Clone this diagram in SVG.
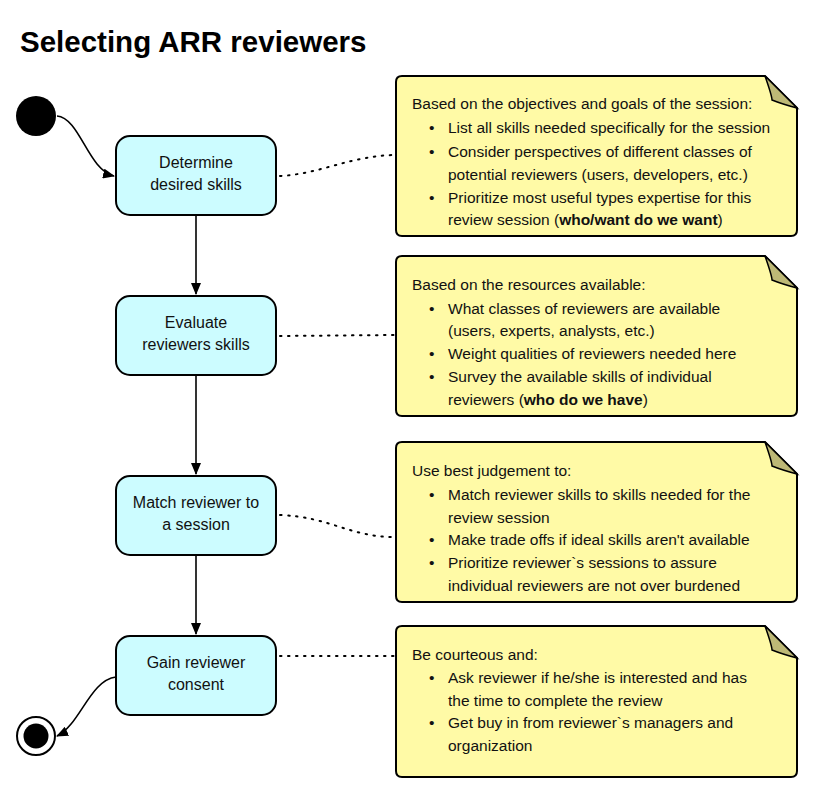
<svg xmlns="http://www.w3.org/2000/svg" width="813" height="792" viewBox="0 0 813 792">
<defs>
<marker id="arr" viewBox="0 0 12 10" refX="11" refY="5" markerWidth="12" markerHeight="10" markerUnits="userSpaceOnUse" orient="auto">
<path d="M0,0 L12,5 L0,10 Z" fill="#000"/>
</marker>
</defs>
<style>
.box{fill:#ccfcff;stroke:#000;stroke-width:2}
.note{fill:#fffaa6;stroke:#000;stroke-width:2}
.fold{fill:#bdb876;stroke:#000;stroke-width:1.5}
.bt{font-family:"Liberation Sans",Arial,sans-serif;font-size:16px;fill:#111;text-anchor:middle}
.nt{font-family:"Liberation Sans",Arial,sans-serif;font-size:15.5px;fill:#111}
.b{font-weight:bold}
.flow{fill:none;stroke:#000;stroke-width:1.6}
.dot{fill:none;stroke:#000;stroke-width:2;stroke-dasharray:1.5 6.5;stroke-linecap:round}
.title{font-family:"Liberation Sans",Arial,sans-serif;font-size:29.5px;font-weight:bold;fill:#000}
</style>
<rect width="813" height="792" fill="#fff"/>
<text class="title" x="20" y="52">Selecting ARR reviewers</text>

<g id="connectors">
<path class="flow" d="M57,116 C80,118 88,170 114,176" marker-end="url(#arr)"/>
<path class="flow" d="M196,216 L196,294" marker-end="url(#arr)"/>
<path class="flow" d="M196,376 L196,474" marker-end="url(#arr)"/>
<path class="flow" d="M196,556 L196,634" marker-end="url(#arr)"/>
<path class="flow" d="M116,677 C90,680 80,725 57,736" marker-end="url(#arr)"/>
<path class="dot" d="M280,176 C320,174 350,156 394,155"/>
<path class="dot" d="M280,336 L394,335"/>
<path class="dot" d="M280,515 C330,517 350,537 394,537"/>
<path class="dot" d="M280,656 L394,656"/>
</g>

<g id="start"><circle cx="36" cy="116" r="20" fill="#000"/></g>
<g id="end"><circle cx="36" cy="736" r="19" fill="#fff" stroke="#000" stroke-width="2"/><circle cx="36" cy="736" r="12.5" fill="#000"/></g>

<g id="n1"><rect class="box" x="116" y="136" width="160" height="79" rx="14"/><text class="bt" x="196" y="168">Determine</text><text class="bt" x="196" y="190">desired skills</text></g>
<g id="n2"><rect class="box" x="116" y="296" width="160" height="79" rx="14"/><text class="bt" x="196" y="328">Evaluate</text><text class="bt" x="196" y="350">reviewers skills</text></g>
<g id="n3"><rect class="box" x="116" y="476" width="160" height="79" rx="14"/><text class="bt" x="196" y="508">Match reviewer to</text><text class="bt" x="196" y="530">a session</text></g>
<g id="n4"><rect class="box" x="116" y="636" width="160" height="79" rx="14"/><text class="bt" x="196" y="668">Gain reviewer</text><text class="bt" x="196" y="690">consent</text></g>

<g id="note1">
<path class="note" d="M402,76 L765,76 L797,108 L797,230 Q797,236 791,236 L402,236 Q396,236 396,230 L396,82 Q396,76 402,76 Z"/>
<path class="fold" d="M765,76 Q772,96 772,100 Q782,104 797,108 Z"/>
<text class="nt" x="412" y="109">Based on the objectives and goals of the session:</text>
<text class="nt" x="429" y="133">•</text><text class="nt" x="448" y="133">List all skills needed specifically for the session</text>
<text class="nt" x="429" y="157">•</text><text class="nt" x="448" y="157">Consider perspectives of different classes of</text>
<text class="nt" x="448" y="180">potential reviewers (users, developers, etc.)</text>
<text class="nt" x="429" y="203">•</text><text class="nt" x="448" y="203">Prioritize most useful types expertise for this</text>
<text class="nt" x="448" y="225">review session (<tspan class="b">who/want do we want</tspan>)</text>
</g>

<g id="note2">
<path class="note" d="M402,256 L765,256 L797,288 L797,410 Q797,416 791,416 L402,416 Q396,416 396,410 L396,262 Q396,256 402,256 Z"/>
<path class="fold" d="M765,256 Q772,276 772,280 Q782,284 797,288 Z"/>
<text class="nt" x="412" y="290">Based on the resources available:</text>
<text class="nt" x="429" y="314">•</text><text class="nt" x="448" y="314">What classes of reviewers are available</text>
<text class="nt" x="448" y="336">(users, experts, analysts, etc.)</text>
<text class="nt" x="429" y="359">•</text><text class="nt" x="448" y="359">Weight qualities of reviewers needed here</text>
<text class="nt" x="429" y="382">•</text><text class="nt" x="448" y="382">Survey the available skills of individual</text>
<text class="nt" x="448" y="405">reviewers (<tspan class="b">who do we have</tspan>)</text>
</g>

<g id="note3">
<path class="note" d="M402,442 L765,442 L797,474 L797,596 Q797,602 791,602 L402,602 Q396,602 396,596 L396,448 Q396,442 402,442 Z"/>
<path class="fold" d="M765,442 Q772,462 772,466 Q782,470 797,474 Z"/>
<text class="nt" x="412" y="476">Use best judgement to:</text>
<text class="nt" x="429" y="500">•</text><text class="nt" x="448" y="500">Match reviewer skills to skills needed for the</text>
<text class="nt" x="448" y="523">review session</text>
<text class="nt" x="429" y="545">•</text><text class="nt" x="448" y="545">Make trade offs if ideal skills aren't available</text>
<text class="nt" x="429" y="568">•</text><text class="nt" x="448" y="568">Prioritize reviewer`s sessions to assure</text>
<text class="nt" x="448" y="591">individual reviewers are not over burdened</text>
</g>

<g id="note4">
<path class="note" d="M402,626 L765,626 L797,658 L797,771 Q797,777 791,777 L402,777 Q396,777 396,771 L396,632 Q396,626 402,626 Z"/>
<path class="fold" d="M765,626 Q772,646 772,650 Q782,654 797,658 Z"/>
<text class="nt" x="412" y="660">Be courteous and:</text>
<text class="nt" x="429" y="683">•</text><text class="nt" x="448" y="683">Ask reviewer if he/she is interested and has</text>
<text class="nt" x="448" y="706">the time to complete the review</text>
<text class="nt" x="429" y="728">•</text><text class="nt" x="448" y="728">Get buy in from reviewer`s managers and</text>
<text class="nt" x="448" y="751">organization</text>
</g>
</svg>
